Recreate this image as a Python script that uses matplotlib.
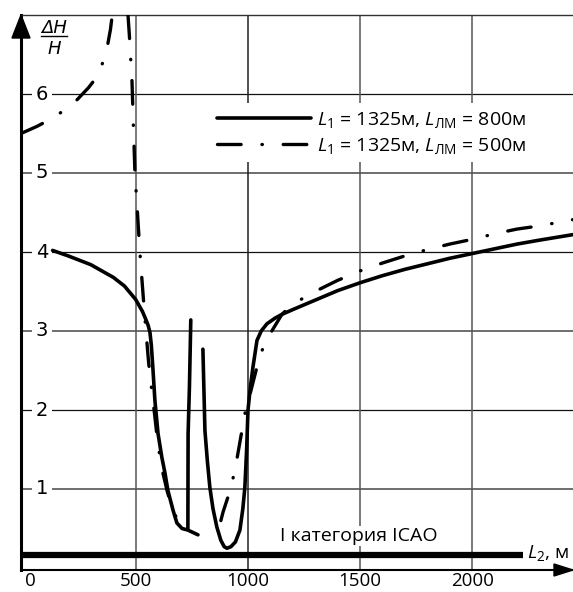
import numpy as np
import matplotlib
matplotlib.use('Agg')
import matplotlib.pyplot as plt
from matplotlib.patches import Polygon
from matplotlib.transforms import ScaledTranslation

# fonts
plt.rcParams['font.family'] = ['Open Sans', 'DejaVu Sans']
plt.rcParams['mathtext.fontset'] = 'custom'
plt.rcParams['mathtext.rm'] = 'Open Sans'
plt.rcParams['mathtext.it'] = 'Open Sans:italic'
plt.rcParams['mathtext.bf'] = 'Open Sans:bold'
plt.rcParams['lines.scale_dashes'] = False

# DATA
# L_LM = 800 m (solid), three pieces
solid_a_x = [130, 200, 300, 400, 450, 500, 530, 545, 556, 564, 570, 577, 586, 600, 617, 631, 644, 667, 684, 707, 733, 778]
solid_a_y = [4.02, 3.95, 3.84, 3.68, 3.57, 3.40, 3.25, 3.15, 3.07, 2.98, 2.82, 2.53, 2.12, 1.70, 1.40, 1.20, 0.98, 0.73, 0.57, 0.50, 0.48, 0.42]
solid_b_x = [733, 734, 740, 746]
solid_b_y = [0.50, 1.70, 2.30, 3.14]
solid_c_x = [800, 805, 809, 820, 831, 845, 862, 880, 895, 907, 925, 945, 965, 978, 987, 995, 1001, 1012, 1023, 1041,
             1060, 1085, 1120, 1152, 1200, 1300, 1400, 1500, 1600, 1700, 1800, 1900, 2000, 2100, 2200, 2300, 2450]
solid_c_y = [2.77, 2.20, 1.74, 1.35, 1.02, 0.75, 0.52, 0.35, 0.27, 0.25, 0.27, 0.33, 0.48, 0.75, 1.02, 1.50, 2.00, 2.30, 2.54, 2.88,
             3.00, 3.09, 3.16, 3.21, 3.27, 3.39, 3.51, 3.61, 3.70, 3.78, 3.85, 3.92, 3.98, 4.04, 4.10, 4.15, 4.22]

# L_LM = 500 m (dash-dot), three pieces
dash_a_x = [-11, 60, 120, 180, 240, 290, 320, 350, 372, 388, 398]
dash_a_y = [5.50, 5.59, 5.68, 5.79, 5.93, 6.08, 6.19, 6.37, 6.57, 6.82, 7.05]
dash_b_x = [466, 472, 478, 484, 490, 497, 506, 519, 533, 546, 558, 572, 586, 600, 622, 640, 662, 680, 697, 715]
dash_b_y = [7.00, 6.75, 6.45, 6.15, 5.60, 5.00, 4.60, 4.00, 3.47, 3.00, 2.60, 2.25, 1.91, 1.55, 1.20, 0.98, 0.77, 0.65, 0.57, 0.50]
dash_c_x = [880, 890, 921, 943, 966, 987, 1010, 1054, 1086, 1152, 1200, 1300, 1400, 1500, 1600, 1700, 1800, 1900,
            2000, 2100, 2200, 2300, 2450]
dash_c_y = [0.60, 0.71, 0.98, 1.24, 1.61, 1.95, 2.20, 2.69, 2.90, 3.21, 3.34, 3.50, 3.64, 3.76, 3.86, 3.95, 4.03, 4.10,
            4.16, 4.23, 4.29, 4.33, 4.41]

icao_level = 0.16
icao_range = [-11, 2227]

x_ticks = [0, 500, 1000, 1500, 2000]
y_labels = [1, 2, 3, 4, 5, 6]
label_800 = r'$L_1$ = 1325м, $L_{\mathrm{ЛМ}}$ = 800м'
label_500 = r'$L_1$ = 1325м, $L_{\mathrm{ЛМ}}$ = 500м'

W, H = 573, 592
fig = plt.figure(figsize=(W / 100, H / 100), dpi=100)
ax = fig.add_axes([21 / W, (H - 570) / H, 1 - 21 / W, (570 - 15) / H])
ax.set_xlim(-11, 2450)
ax.set_ylim(-2 / 79, 7)

# grid
for v in y_labels:
    if v % 2 == 0:
        ax.axhline(v, color='#111111', lw=0.9, zorder=1)
    else:
        ax.axhline(v, color='#555555', lw=1.2, zorder=1)
for xv, c in zip(x_ticks[1:], ['#555555', '#222222', '#555555', '#555555']):
    ax.axvline(xv, color=c, lw=1.1, zorder=1)

# curves
sk = dict(color='black', lw=2.6, solid_capstyle='round', solid_joinstyle='round', zorder=5)
dk = dict(color='black', lw=2.4, dashes=(17, 15, 0.3, 15), dash_capstyle='round', zorder=5)
l1, = ax.plot(solid_a_x, solid_a_y, label=label_800, **sk)
ax.plot(solid_b_x, solid_b_y, **sk)
ax.plot(solid_c_x, solid_c_y, **sk)
l2, = ax.plot(dash_a_x, dash_a_y, label=label_500, **dk)
ax.plot(dash_b_x, dash_b_y, **dk)
ax.plot(dash_c_x, dash_c_y, **dk)

# ICAO line
ax.plot(icao_range, [icao_level, icao_level], color='black', lw=4.5, solid_capstyle='butt', zorder=6, clip_on=False)
ax.text(1493, 0.405, 'I категория ICAO', ha='center', va='center', fontsize=14,
        bbox=dict(fc='white', ec='none', pad=1.0), zorder=3)

# spines
ax.spines['right'].set_visible(False)
ax.spines['left'].set_linewidth(2.2)
ax.spines['bottom'].set_linewidth(1.5)
ax.spines['top'].set_linewidth(1.0)
ax.spines['top'].set_color('#333333')

ax.set_xticks(x_ticks)
ax.set_xticklabels([str(t) for t in x_ticks], fontsize=13.5)
ax.tick_params(axis='x', length=0, pad=1.5)
ax.set_yticks([])
first = ax.get_xticklabels()[0]
first.set_transform(first.get_transform() + ScaledTranslation(7 / 100, 0, fig.dpi_scale_trans))

for v in y_labels:
    ax.text(82, v, str(v), ha='center', va='center', fontsize=14, family='DejaVu Sans',
            bbox=dict(fc='white', ec='none', pad=2.5), zorder=3)

# legend
leg = ax.legend(handles=[l1, l2], loc='upper left', bbox_to_anchor=(210 / W, 1 - 103 / H),
                bbox_transform=fig.transFigure, fontsize=14, frameon=True, fancybox=False,
                handlelength=4.85, handletextpad=0.3, labelspacing=0.3, borderpad=0.35, borderaxespad=0)
leg.get_frame().set_facecolor('white')
leg.get_frame().set_edgecolor('none')
leg.get_frame().set_alpha(1)
leg.set_zorder(4)


def px(x, y):
    return (x / W, 1 - y / H)


# axis arrows
fig.patches.append(Polygon([px(21, 15), px(12, 38), px(30, 38)], closed=True, fc='black', ec='black',
                           transform=fig.transFigure, figure=fig))
fig.patches.append(Polygon([px(573, 570), px(554, 564), px(554, 576)], closed=True, fc='black', ec='black',
                           transform=fig.transFigure, figure=fig))

# axis labels
fig.text(*px(527, 553), r'$L_2$, м', ha='left', va='center', fontsize=14)
fig.text(*px(54, 28), 'ΔH', ha='center', va='center', fontsize=13, style='italic', family='DejaVu Sans')
fig.add_artist(plt.Line2D([41 / W, 67 / W], [1 - 36 / H, 1 - 36 / H], color='black', lw=1.0))
fig.text(*px(54, 49), 'H', ha='center', va='center', fontsize=13, style='italic', family='DejaVu Sans')

fig.savefig('out.png', dpi=100)
